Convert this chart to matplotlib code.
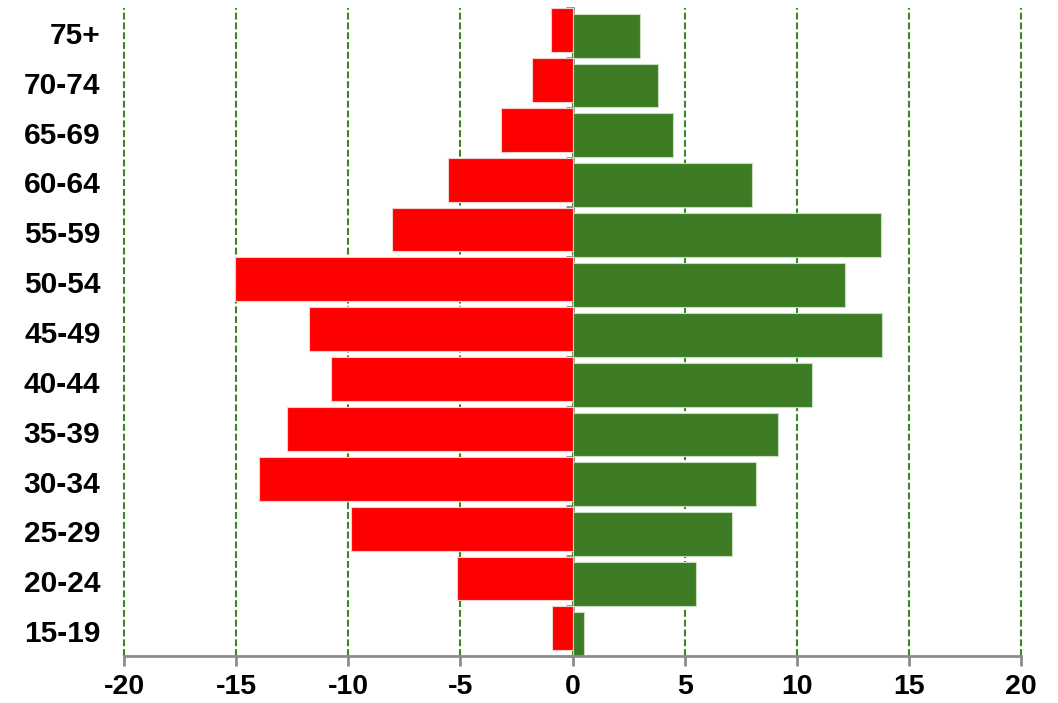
import matplotlib
matplotlib.use("Agg")
import matplotlib.pyplot as plt
import numpy as np

plt.rcParams['font.family'] = ['Liberation Sans', 'DejaVu Sans']
plt.rcParams['axes.unicode_minus'] = False

# Data (bottom to top)
ages = ['15-19', '20-24', '25-29', '30-34', '35-39', '40-44', '45-49',
        '50-54', '55-59', '60-64', '65-69', '70-74', '75+']
red_values = [-0.93, -5.17, -9.86, -13.99, -12.75, -10.78, -11.75,
              -15.04, -8.06, -5.55, -3.20, -1.79, -0.96]
green_values = [0.51, 5.50, 7.10, 8.18, 9.15, 10.70, 13.82,
                12.16, 13.74, 8.00, 4.47, 3.81, 3.00]
x_ticks = [-20, -15, -10, -5, 0, 5, 10, 15, 20]
x_tick_labels = ['-20', '-15', '-10', '-5', '0', '5', '10', '15', '20']

RED = '#FF0000'
GREEN = '#3D7C25'
GRID_GREEN = '#3C8528'
GRAY = '#8C8C8C'

fig = plt.figure(figsize=(10.58, 7.03), dpi=100)
ax = fig.add_axes([124 / 1058, 1 - 656 / 703, (1021 - 124) / 1058, (656 - 8) / 703])

y = np.arange(len(ages))
h = 0.88
off = 0.055
ax.barh(y + off, red_values, height=h, color=RED, edgecolor='#f2d0d0', linewidth=0.8, zorder=3)
ax.barh(y - off, green_values, height=h, color=GREEN, edgecolor='#c8dcc0', linewidth=0.8, zorder=3)

ax.set_xlim(-20, 20)
ax.set_ylim(-0.5, len(ages) - 0.5)

ax.set_xticks(x_ticks)
ax.set_xticklabels(x_tick_labels, fontsize=20.5, fontweight='bold')
ax.set_yticks(y)
ax.set_yticklabels(ages, fontsize=21.5, fontweight='bold')

ax.tick_params(axis='y', length=0, pad=17)
ax.tick_params(axis='x', length=7, width=2, color=GRAY, direction='out', pad=6)

for s in ['top', 'right', 'left']:
    ax.spines[s].set_visible(False)
ax.spines['bottom'].set_color(GRAY)
ax.spines['bottom'].set_linewidth(2)
ax.spines['bottom'].set_zorder(4)

ax.set_axisbelow(True)
ax.grid(axis='x', color=GRID_GREEN, linestyle=(0, (3.3, 1.4)), linewidth=1.5, zorder=0)
ax.grid(axis='y', visible=False)
for gl in ax.get_xgridlines():
    gl.set_clip_on(False)

# central vertical axis with category boundary ticks
sec = ax.secondary_yaxis(0.5)
sec.set_alignment('left')
sec.set_yticks(np.arange(len(ages) + 1) - 0.5)
sec.set_yticklabels([])
sec.tick_params(axis='y', length=5, width=2, color=GRAY, direction='out')
sec.spines['left'].set_color(GRAY)
sec.spines['left'].set_linewidth(2)

fig.savefig('out.png', dpi=100)
